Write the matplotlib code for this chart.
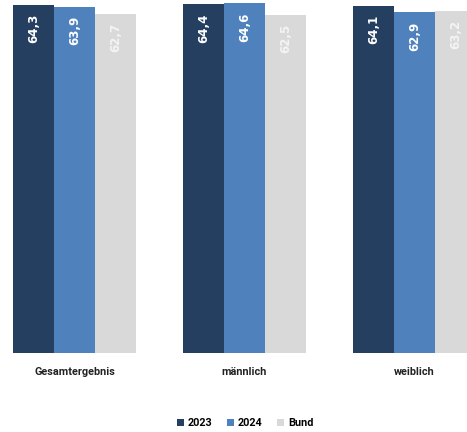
import numpy as np
import matplotlib.pyplot as plt

categories = ["Gesamtergebnis", "männlich", "weiblich"]
series = ["2023", "2024", "Bund"]
values_2023 = [64.3, 64.4, 64.1]
values_2024 = [63.9, 64.6, 62.9]
values_bund = [62.7, 62.5, 63.2]

colors = ["#243F60", "#4F81BD", "#D9D9D9"]
label_colors = ["white", "white", "#F4F4F4"]

fig = plt.figure(figsize=(4.67, 4.32), dpi=100)
ax = fig.add_axes([0, 0.183, 1, 0.817])

x = np.arange(len(categories))
w = 0.241
for k, (name, vals) in enumerate(zip(series, [values_2023, values_2024, values_bund])):
    pos = x + (k - 1) * w
    ax.bar(pos, vals, width=w, color=colors[k], label=name)
    for px, v in zip(pos, vals):
        ax.annotate(f"{v:.1f}".replace(".", ","), (px, v), xytext=(0, -6.5),
                    textcoords="offset points", ha="center", va="top",
                    rotation=90, color=label_colors[k], fontsize=8.5,
                    fontweight="bold")

ax.set_xlim(-0.438, 2.309)
ax.set_ylim(0, 65.2)
for s in ax.spines.values():
    s.set_visible(False)
ax.set_yticks([])
ax.set_xticks(x)
ax.set_xticklabels(categories, fontsize=7.8, fontweight="bold", color="#222222",
                   family="Roboto")
ax.tick_params(axis="x", length=0, pad=10)

fig.legend(loc="center", ncol=3, frameon=False, bbox_to_anchor=(0.525, 0.021),
           prop={"size": 7.8, "weight": "bold", "family": "Roboto"},
           handlelength=0.6, handleheight=0.6, handletextpad=0.35,
           columnspacing=1.4)

fig.savefig("out.png", dpi=100)
